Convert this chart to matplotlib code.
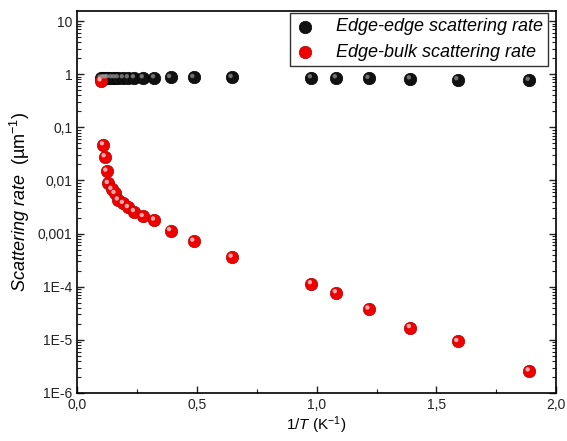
import matplotlib
matplotlib.use("Agg")
import matplotlib.pyplot as plt
import matplotlib.transforms as mtransforms
from matplotlib.ticker import FixedLocator, FixedFormatter, LogLocator, MultipleLocator, NullFormatter

plt.rcParams['font.family'] = ['Liberation Sans', 'DejaVu Sans']
plt.rcParams['mathtext.fontset'] = 'custom'
plt.rcParams['mathtext.rm'] = 'Liberation Sans'
plt.rcParams['mathtext.it'] = 'Liberation Sans:italic'

# 1/T values (K^-1)
inv_T = [0.100, 0.110, 0.117, 0.124, 0.130, 0.145, 0.158, 0.172, 0.193, 0.214,
         0.239, 0.276, 0.323, 0.390, 0.487, 0.647, 0.978, 1.082, 1.218, 1.391,
         1.589, 1.887]
edge_edge = [0.85, 0.86, 0.86, 0.86, 0.86, 0.86, 0.86, 0.86, 0.86, 0.86,
             0.86, 0.86, 0.86, 0.87, 0.87, 0.87, 0.86, 0.86, 0.84, 0.82,
             0.79, 0.77]
edge_bulk = [0.75, 0.047, 0.028, 0.015, 0.0088, 0.0068, 0.0057, 0.0043, 0.0037, 0.0031,
             0.0026, 0.0021, 0.0018, 0.00114, 0.00072, 0.00036, 1.14e-4, 7.7e-5, 3.8e-5, 1.7e-5,
             9.3e-6, 2.6e-6]

y_ticks = [1e-6, 1e-5, 1e-4, 1e-3, 1e-2, 1e-1, 1, 10]
y_tick_labels = ['1E-6', '1E-5', '1E-4', '0,001', '0,01', '0,1', '1', '10']
x_ticks = [0.0, 0.5, 1.0, 1.5, 2.0]
x_tick_labels = ['0,0', '0,5', '1,0', '1,5', '2,0']

fig = plt.figure(figsize=(5.67, 4.41), dpi=100)
ax = fig.add_axes([0.136, 0.109, 0.845, 0.866])

# sphere-like markers: base dot + small highlight shifted up-left
shine = ax.transData + mtransforms.ScaledTranslation(-0.015, 0.015, fig.dpi_scale_trans)
ax.scatter(inv_T, edge_edge, s=80, c='#111111', edgecolors='#000000', linewidths=0.5,
           zorder=3, label='Edge-edge scattering rate')
ax.scatter(inv_T, edge_edge, s=10, c='#999999', edgecolors='none', alpha=0.7,
           zorder=4, transform=shine)
ax.scatter(inv_T, edge_bulk, s=80, c='#ee0000', edgecolors='#b00000', linewidths=0.5,
           zorder=3, label='Edge-bulk scattering rate')
ax.scatter(inv_T, edge_bulk, s=10, c='#ffbbbb', edgecolors='none', alpha=0.9,
           zorder=4, transform=shine)

ax.set_yscale('log')
ax.set_xlim(0, 2.0)
ax.set_ylim(1e-6, 15.5)

ax.yaxis.set_major_locator(FixedLocator(y_ticks))
ax.yaxis.set_major_formatter(FixedFormatter(y_tick_labels))
ax.yaxis.set_minor_locator(LogLocator(base=10, subs=range(2, 10), numticks=20))
ax.yaxis.set_minor_formatter(NullFormatter())
ax.xaxis.set_major_locator(FixedLocator(x_ticks))
ax.xaxis.set_major_formatter(FixedFormatter(x_tick_labels))
ax.xaxis.set_minor_locator(MultipleLocator(0.25))

ax.tick_params(which='both', direction='in', right=True, top=False, labelsize=10,
               colors='#222222')
ax.tick_params(which='major', length=5, width=1)
ax.tick_params(which='minor', length=3, width=0.8)
for s in ax.spines.values():
    s.set_linewidth(1.2)

ax.set_xlabel(r'$\mathit{1/T}$ (K$^{-1}$)', fontsize=11, labelpad=2)
ax.set_ylabel(r'$\mathit{Scattering\ rate}$  (µm$^{-1}$)', fontsize=13, labelpad=4)

leg = ax.legend(loc='upper right', fontsize=13, frameon=True, fancybox=False,
                edgecolor='black', handletextpad=1.2, borderpad=0.3,
                labelspacing=0.45, handlelength=1.0, borderaxespad=0,
                bbox_to_anchor=(548 / 567, 1 - 13 / 441),
                bbox_transform=fig.transFigure)
leg.get_frame().set_linewidth(1.0)
for t in leg.get_texts():
    t.set_fontstyle('italic')

fig.savefig('out.png', dpi=100)
